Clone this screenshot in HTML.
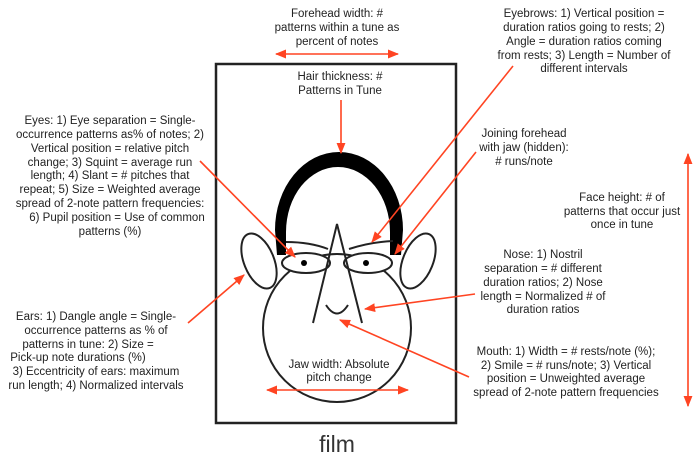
<!DOCTYPE html>
<html><head><style>
body{margin:0;background:#fff;}
svg{display:block;}
text{font-family:"Liberation Sans",Arial,sans-serif;font-size:11.5px;fill:#222;text-anchor:middle;}
</style></head><body>
<svg width="700" height="460" viewBox="0 0 700 460" xmlns="http://www.w3.org/2000/svg">
<defs>
<marker id="a" viewBox="0 0 10 10" refX="9" refY="5" markerWidth="7" markerHeight="7" orient="auto-start-reverse"><path d="M0,1 L10,5 L0,9 z" fill="#ff4422"/></marker>
</defs>
<rect x="216" y="64" width="240" height="359" fill="none" stroke="#222" stroke-width="2.5"/>
<!-- hair -->
<path d="M277,255 L275,230 A64,78 0 0 1 403,230 L401,255 L390,255 L390,232 A52,65 0 0 0 286,232 L286,255 Z" fill="#000"/>
<!-- face -->
<circle cx="337" cy="328" r="74" fill="#fff" stroke="#222" stroke-width="2"/>
<!-- ears -->
<ellipse cx="259" cy="261" rx="15" ry="29" transform="rotate(-22 259 261)" fill="#fff" stroke="#222" stroke-width="2"/>
<ellipse cx="418" cy="261" rx="15" ry="29" transform="rotate(22 418 261)" fill="#fff" stroke="#222" stroke-width="2"/>
<!-- eyebrows -->
<path d="M286,242 Q310,242 328,249" fill="none" stroke="#222" stroke-width="2"/>
<path d="M349,249 Q370,242 393,241" fill="none" stroke="#222" stroke-width="2"/>
<!-- eyes -->
<ellipse cx="306" cy="263" rx="24" ry="10" fill="#fff" stroke="#222" stroke-width="2"/>
<ellipse cx="368" cy="263" rx="24" ry="10" fill="#fff" stroke="#222" stroke-width="2"/>
<circle cx="304" cy="263" r="3" fill="#000"/>
<circle cx="366" cy="263" r="3" fill="#000"/>
<!-- nose -->
<path d="M313,323 L337,224 L362,323" fill="none" stroke="#222" stroke-width="2"/>
<!-- mouth -->
<path d="M326,305 Q337,322 348,305" fill="none" stroke="#222" stroke-width="2"/>
<!-- arrows -->
<g stroke="#ff4422" stroke-width="1.6" fill="none">
<line x1="276" y1="54" x2="398" y2="54" marker-start="url(#a)" marker-end="url(#a)"/>
<line x1="267" y1="390" x2="408" y2="390" marker-start="url(#a)" marker-end="url(#a)"/>
<line x1="688" y1="154" x2="688" y2="406" marker-start="url(#a)" marker-end="url(#a)"/>
<line x1="341" y1="100" x2="341" y2="153" marker-end="url(#a)"/>
<line x1="200" y1="161" x2="295" y2="257" marker-end="url(#a)"/>
<line x1="513" y1="66" x2="372" y2="242" marker-end="url(#a)"/>
<line x1="476" y1="152" x2="395" y2="254" marker-end="url(#a)"/>
<line x1="188" y1="323" x2="244" y2="275" marker-end="url(#a)"/>
<line x1="475" y1="294" x2="365" y2="309" marker-end="url(#a)"/>
<line x1="469" y1="377" x2="340" y2="320" marker-end="url(#a)"/>
</g>
<!-- text -->
<text x="337" y="17">Forehead width: #</text>
<text x="337" y="31">patterns within a tune as</text>
<text x="337" y="45">percent of notes</text>
<text x="340" y="80">Hair thickness: #</text>
<text x="340" y="94">Patterns in Tune</text>
<text x="110" y="124">Eyes: 1) Eye separation = Single-</text>
<text x="110" y="138">occurrence patterns as% of notes; 2)</text>
<text x="110" y="152">Vertical position = relative pitch</text>
<text x="110" y="166">change; 3) Squint = average run</text>
<text x="110" y="179">length; 4) Slant = # pitches that</text>
<text x="110" y="193">repeat; 5) Size = Weighted average</text>
<text x="110" y="207">spread of 2-note pattern frequencies:</text>
<text x="117" y="221">6) Pupil position =  Use of common</text>
<text x="110" y="235">patterns (%)</text>
<text x="96" y="320">Ears: 1) Dangle angle = Single-</text>
<text x="96" y="334">occurrence patterns as % of</text>
<text x="88" y="348">patterns in tune: 2) Size =</text>
<text x="78" y="361">Pick-up note durations (%)</text>
<text x="96" y="375">3) Eccentricity of ears: maximum</text>
<text x="96" y="389">run length; 4) Normalized intervals</text>
<text x="584" y="17">Eyebrows: 1) Vertical position  =</text>
<text x="584" y="31">duration ratios going to rests; 2)</text>
<text x="584" y="45">Angle = duration ratios coming</text>
<text x="584" y="59">from rests; 3) Length = Number of</text>
<text x="584" y="72">different intervals</text>
<text x="524" y="137">Joining forehead</text>
<text x="524" y="151">with jaw (hidden):</text>
<text x="524" y="165"># runs/note</text>
<text x="622" y="201">Face height: # of</text>
<text x="622" y="215">patterns that occur just</text>
<text x="622" y="228">once in tune</text>
<text x="543" y="258">Nose: 1) Nostril</text>
<text x="543" y="272">separation = # different</text>
<text x="543" y="286">duration ratios; 2) Nose</text>
<text x="543" y="300">length = Normalized # of</text>
<text x="543" y="313">duration ratios</text>
<text x="566" y="355">Mouth: 1)  Width = # rests/note (%);</text>
<text x="566" y="369">2) Smile = # runs/note; 3) Vertical</text>
<text x="566" y="382">position = Unweighted average</text>
<text x="566" y="396">spread of 2-note pattern frequencies</text>
<text x="339" y="368">Jaw width: Absolute</text>
<text x="339" y="381">pitch change</text>
<text x="337" y="452" style="font-size:23px;fill:#333">film</text>
</svg>
</body></html>
